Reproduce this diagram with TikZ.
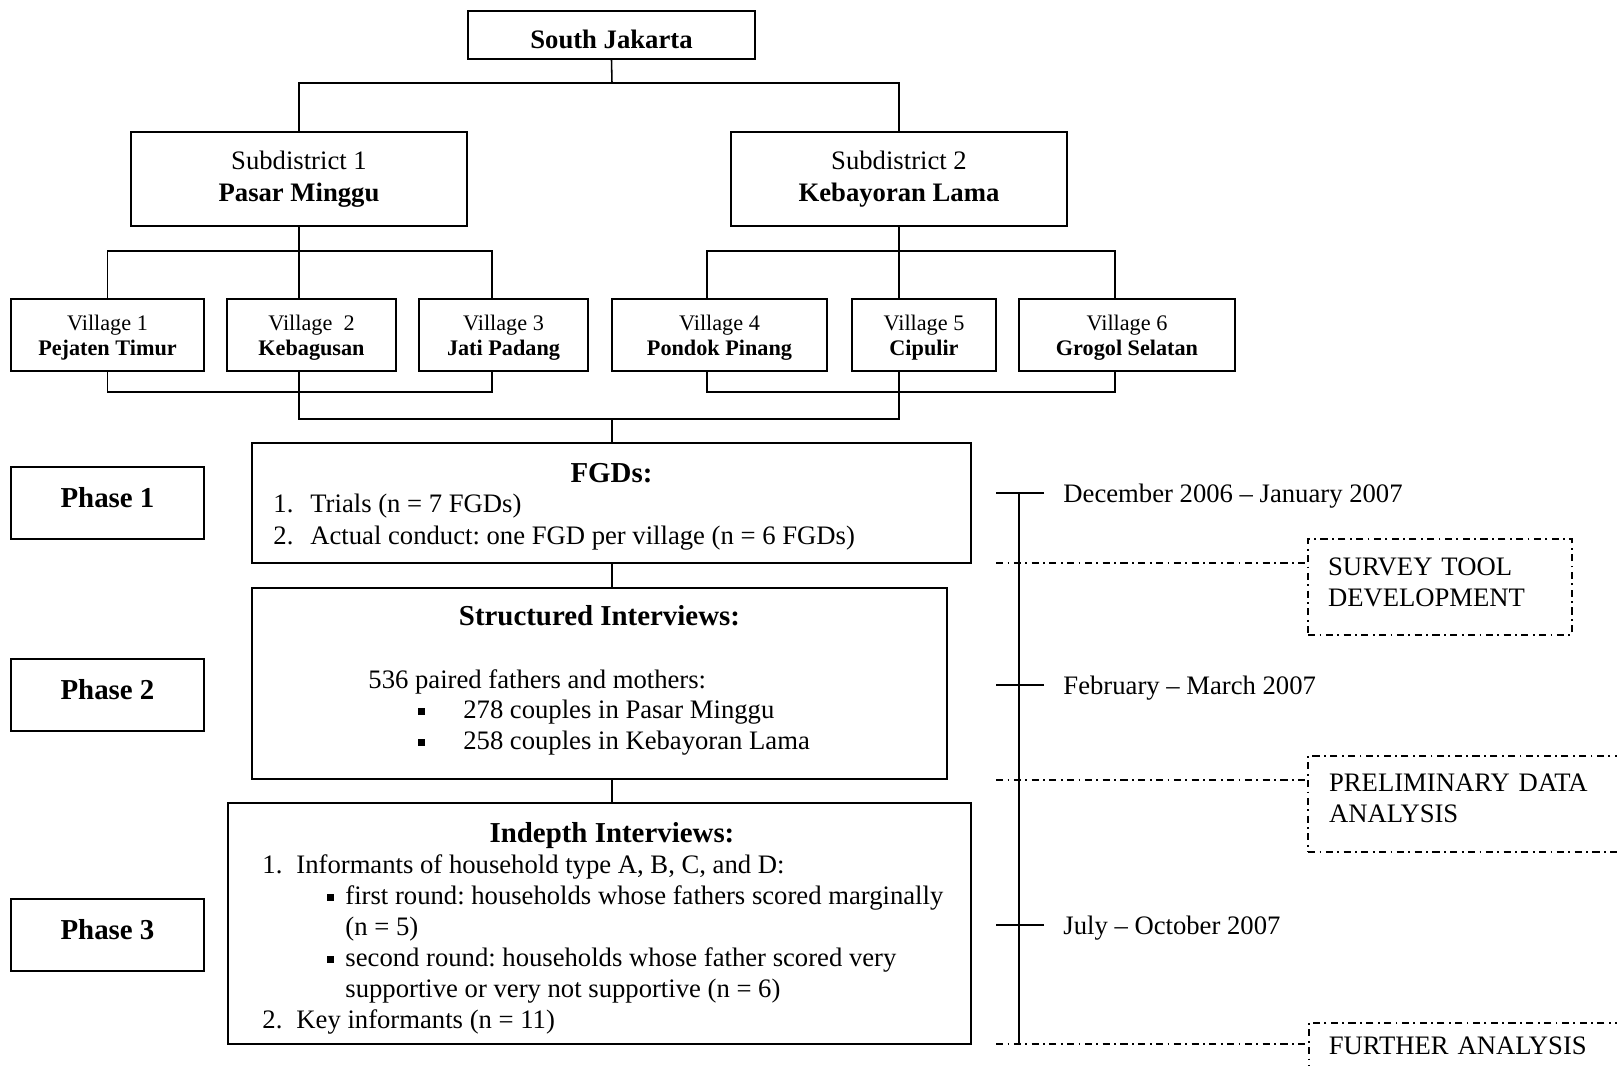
\documentclass[tikz,border=0pt]{standalone}
\usepackage{fontspec}
\setmainfont{Liberation Serif}
\usetikzlibrary{calc}
\frenchspacing

\newcommand{\sqbul}{\rule[1.7pt]{3pt}{3pt}}

\tikzset{
  box/.style={draw, line width=0.9pt, inner sep=0pt, align=center},
  boxw/.style={minimum width=#1*0.45pt},
  boxh/.style={minimum height=#1*0.45pt},
  vill/.style={box, boxh=72, font=\fontsize{10}{11.3}\selectfont},
  phase/.style={box, boxw=193, boxh=72, text depth=4.6pt, font=\fontsize{13}{15}\selectfont\bfseries},
  head/.style={inner sep=0pt, font=\fontsize{13}{15}\selectfont\bfseries},
  txt/.style={anchor=west, inner sep=0pt, yshift=-1.35pt, font=\fontsize{12}{14}\selectfont},
  link/.style={line width=0.7pt},
  dashdot/.style={line width=0.7pt, dash pattern=on 3.2pt off 2pt on 0.8pt off 2pt},
  notebox/.style={dashdot, draw, inner xsep=9pt, inner ysep=0pt, align=left,
    font=\fontsize{12}{14}\selectfont}
}

\begin{document}
\begin{tikzpicture}[x=0.45pt, y=-0.45pt]
    \useasboundingbox (0,0) rectangle (1617,1065);

    % area tree
    \node[box, boxw=287, boxh=48, text height=11.8pt, text depth=0pt, font=\fontsize{12}{14}\selectfont\bfseries] (sj) at (611.5,35) {South Jakarta};
    \node[box, boxw=336, boxh=94, font=\fontsize{12}{14.4}\selectfont] (sd1) at (299,179) {Subdistrict 1\\\textbf{Pasar Minggu}};
    \node[box, boxw=336, boxh=94, font=\fontsize{12}{14.4}\selectfont] (sd2) at (899,179) {Subdistrict 2\\\textbf{Kebayoran Lama}};

    \node[vill, boxw=193] (v1) at (107.5,335) {\rule{0pt}{9.6pt}Village 1\\\textbf{Pejaten Timur}};
    \node[vill, boxw=169] (v2) at (311.5,335) {\rule{0pt}{9.6pt}Village~~2\\\textbf{Kebagusan}};
    \node[vill, boxw=169] (v3) at (503.5,335) {\rule{0pt}{9.6pt}Village 3\\\textbf{Jati Padang}};
    \node[vill, boxw=215] (v4) at (719.5,335) {\rule{0pt}{9.6pt}Village 4\\\textbf{Pondok Pinang}};
    \node[vill, boxw=144] (v5) at (924,335) {\rule{0pt}{9.6pt}Village 5\\\textbf{Cipulir}};
    \node[vill, boxw=216] (v6) at (1127,335) {\rule{0pt}{9.6pt}Village 6\\\textbf{Grogol Selatan}};

    \coordinate (j0) at (612,83);
    \draw[link] (sj.south) -- (j0) -| (sd1.north);
    \draw[link] (j0) -| (sd2.north);

    \coordinate (j1r) at (492,251);
    \coordinate (j2l) at (707,251);
    \coordinate (j2r) at (1115,251);
    \draw[link] (sd1.south) -- (sd1.south |- v2.north);
    \draw[link] (v1.north) |- (j1r) -- (j1r |- v3.north);
    \draw[link] (sd2.south) -- (sd2.south |- v5.north);
    \draw[link] (j2l |- v4.north) -- (j2l) -- (j2r) -- (j2r |- v6.north);

    \coordinate (b1r) at (492,392);
    \coordinate (b2l) at (707,392);
    \coordinate (b2r) at (1115,392);
    \coordinate (j3) at (612,419);
    \draw[link] (v1.south) |- (b1r) -- (b1r |- v3.south);
    \draw[link] (b2l |- v4.south) -- (b2l) -- (b2r) -- (b2r |- v6.south);
    \draw[link] (sd1.south |- v2.south) |- (j3) -| (sd2.south |- v5.south);

    % phases
    \node[phase] (ph1) at (107.5,503) {Phase 1};
    \node[phase] (ph2) at (107.5,695) {Phase 2};
    \node[phase] (ph3) at (107.5,934.5) {Phase 3};

    \node[box, boxw=719, boxh=120] (fgd) at (611.5,503) {};
    \node[box, boxw=695, boxh=191] (si) at (599.5,683.5) {};
    \node[box, boxw=743, boxh=241] (idi) at (599.5,923.5) {};

    \draw[link] (j3) -- (j3 |- fgd.north);
    \draw[link] (j3 |- fgd.south) -- (j3 |- si.north);
    \draw[link] (j3 |- si.south) -- (j3 |- idi.north);

    % FGDs
    \node[head] (fgdhead) at (611.5,473) {FGDs:};
    \node[txt] (fgd1) at (273,503) {\makebox[16.6pt][l]{1.}Trials (n = 7 FGDs)};
    \node[txt] (fgd2) at (273,535) {\makebox[16.6pt][l]{2.}Actual conduct: one FGD per village (n = 6 FGDs)};

    % structured interviews
    \node[head] (sihead) at (599.5,616) {Structured Interviews:};
    \node[txt] (si0) at (368,679) {536 paired fathers and mothers:};
    \foreach \y/\t [count=\i] in {709/278 couples in Pasar Minggu, 740/258 couples in Kebayoran Lama}
        \node[txt] (si\i) at (418,\y) {\makebox[20.2pt][l]{\sqbul}\t};

    % indepth interviews
    \node[head] (idhead) at (612,836) {Indepth Interviews:};
    \node[txt] (id1) at (262,864) {\makebox[15.3pt][l]{1.}Informants of household type A, B, C, and D:};
    \node[txt] (id1a) at (327,895) {\makebox[8.1pt][l]{\sqbul}first round: households whose fathers scored marginally};
    \node[txt] (id1b) at (345,926) {(n = 5)};
    \node[txt] (id1c) at (327,957) {\makebox[8.1pt][l]{\sqbul}second round: households whose father scored very};
    \node[txt] (id1d) at (345,988) {supportive or very not supportive (n = 6)};
    \node[txt] (id2) at (262,1019) {\makebox[15.3pt][l]{2.}Key informants (n = 11)};

    % time line
    \coordinate (tltop) at (1019,492);
    \coordinate (tlbot) at (1019,1044);
    \draw[link] (tltop) -- (tlbot);
    \foreach \y/\d [count=\i] in {493/December 2006 -- January 2007, 685/February -- March 2007, 925/July -- October 2007} {
        \node[txt] (date\i) at (1063,\y) {\d};
        \draw[link] (date\i.west) ++(-19,-3) -- ++(-48,0);
    }

    % analysis steps
    \node[notebox, boxw=264, boxh=96, text depth=18.5pt, text width=100.8pt] (survey) at (1440,587) {SURVEY TOOL\\DEVELOPMENT};
    \begin{scope}
        \clip (0,0) rectangle (1617,1065);
        \node[notebox, boxw=340, boxh=96, text depth=19.4pt, text width=134pt] (prelim) at (1478,804) {PRELIMINARY DATA\\ANALYSIS};
        \node[notebox, anchor=north west, inner ysep=6.5pt, text width=134pt] (further) at (1308,1022) {FURTHER ANALYSIS};
    \end{scope}

    \coordinate (dd1) at (996,563);
    \coordinate (dd2) at (996,780);
    \coordinate (dd3) at (996,1044);
    \draw[dashdot] (dd1) -- (dd1 -| survey.west);
    \draw[dashdot] (dd2) -- (dd2 -| prelim.west);
    \draw[dashdot] (dd3) -- (dd3 -| further.west);
\end{tikzpicture}
\end{document}
